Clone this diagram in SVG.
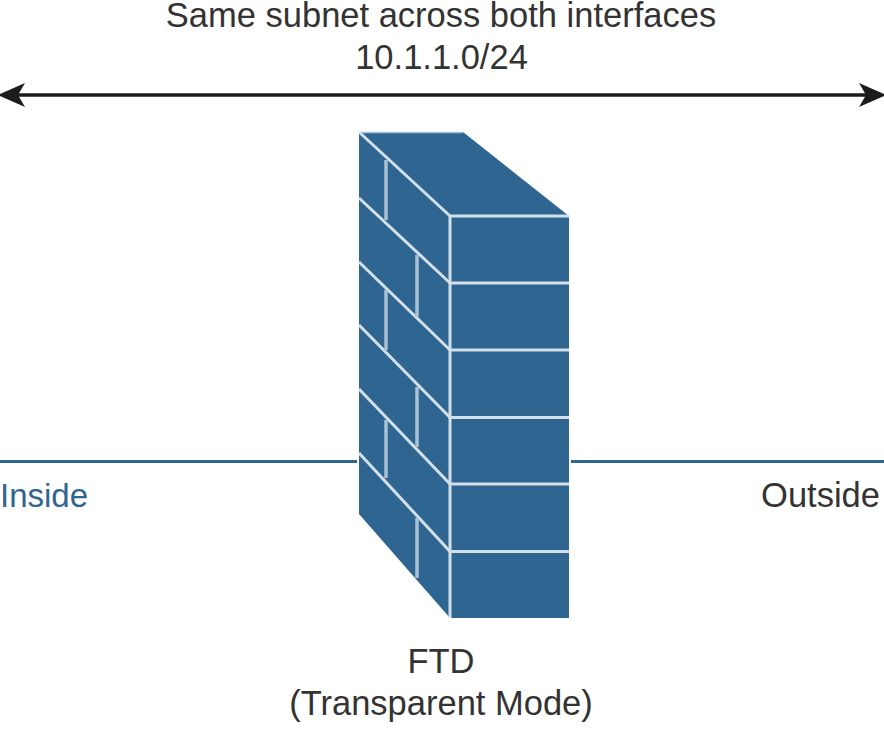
<svg xmlns="http://www.w3.org/2000/svg" width="884" height="731" viewBox="0 0 884 731">
<style>
text{font-family:"Liberation Sans",Arial,sans-serif;font-size:34.500px;fill:#333;text-anchor:middle}
.b{fill:#2f6591}
.w{stroke:#d3e0ea;stroke-width:3;fill:none}
.t{stroke:#a9c1d4;stroke-width:1.500;fill:none}
.v{stroke:#a9c1d4;stroke-width:3.500;fill:none}
.n{stroke:#2f6591;stroke-width:3;fill:none}
.a{stroke:#1c1c1c;stroke-width:3.500;fill:none}
.h{fill:#1c1c1c}
</style>
<rect width="884" height="731" fill="#fff"/>
<g id="connectors">
<path class="a" d="M10 95H874"/>
<path class="h" d="M-2 95L25 83L18 95L25 107Z"/>
<path class="h" d="M886 95L859 83L866 95L859 107Z"/>
<path class="n" d="M0 461.500H357"/>
<path class="n" d="M571 461.500H884"/>
</g>
<g id="firewall">
<path class="b" d="M359 132H463L569 216V618H450L359 514Z"/>
<path class="t" d="M360 132.500H463"/>
<path class="w" d="M450 216H569M450 283H569M450 350H569M450 417.500H569M450 484H569M450 551.500H569M450 216V618"/>
<path class="w" d="M359 132L450 216M359 198L450 283M359 262L450 350M359 325L450 417.500M359 389L450 484M359 453L450 551.500"/>
<path class="v" d="M386 160V220M417 255V317M386 290V350M417 387V447M386 420V478M417 518V578"/>
</g>
<g id="labels">
<text x="441" y="27">Same subnet across both interfaces</text>
<text x="441.500" y="69">10.1.1.0/24</text>
<text x="0" y="507" style="text-anchor:start;fill:#2f6591;font-size:33px">Inside</text>
<text x="820.500" y="507">Outside</text>
<text x="441" y="672.500">FTD</text>
<text x="441" y="714.500">(Transparent Mode)</text>
</g>
</svg>
